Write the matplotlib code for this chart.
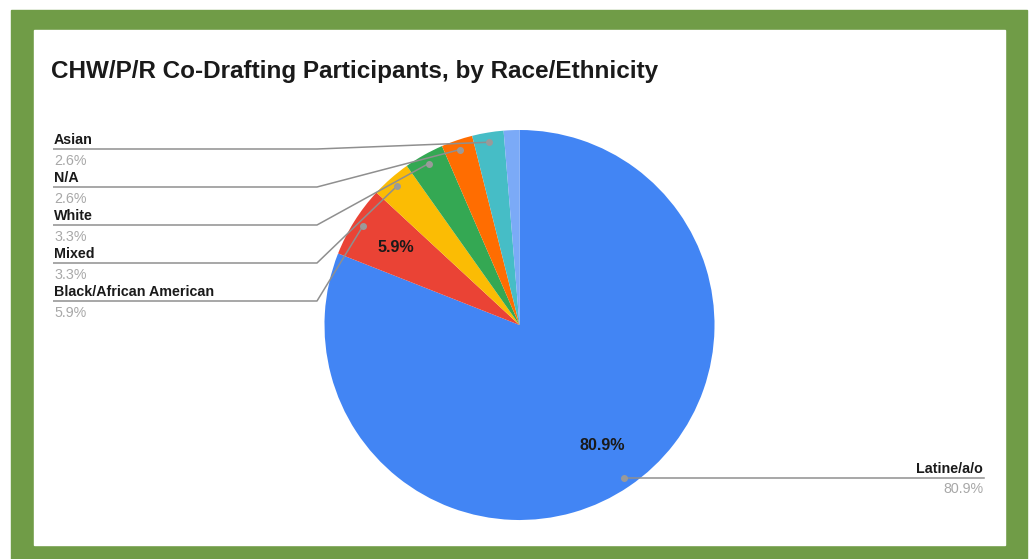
import matplotlib
matplotlib.use("Agg")
import matplotlib.pyplot as plt
import numpy as np
from matplotlib.patches import Rectangle

# ---- data ----
title = "CHW/P/R Co-Drafting Participants, by Race/Ethnicity"
categories = ["Latine/a/o", "Black/African American", "Mixed", "White", "N/A", "Asian", ""]
shares = [80.9, 5.9, 3.3, 3.3, 2.6, 2.6, 1.3]
colors = ["#4285F4", "#EA4335", "#FBBC04", "#34A853", "#FF6D01", "#46BDC6", "#7BAAF7"]
left_label_order = ["Asian", "N/A", "White", "Mixed", "Black/African American"]

plt.rcParams['font.family'] = ['Liberation Sans', 'DejaVu Sans']

W, H = 1031, 559
fig = plt.figure(figsize=(W / 100, H / 100), dpi=100)
ax = fig.add_axes([0, 0, 1, 1])

# frame
ax.add_patch(Rectangle((11, 10), 1016, 549, color='#709C47', zorder=0))
ax.add_patch(Rectangle((34, 30), 971, 515, color='white', zorder=0))

cx, cy, R = 519.5, 325, 195
wedges, texts, autotexts = ax.pie(
    shares, colors=colors, startangle=270, counterclock=True,
    center=(cx, cy), radius=R, autopct='%1.1f%%', pctdistance=0.75,
    wedgeprops=dict(linewidth=0, zorder=2),
    textprops=dict(fontsize=11.6, fontweight='bold', color='#1a1a1a'))
for w in wedges:
    w.set_zorder(2)
for t, s in zip(autotexts, shares):
    t.set_text(f"{s:.1f}%" if s >= 5 else "")
    t.set_zorder(5)

line_c = '#8f8f8f'
dot_c = '#9a9a9a'
pct_c = '#a8a8a8'
fs = 10.3

def anchor(i):
    w = wedges[i]
    th = np.deg2rad((w.theta1 + w.theta2) / 2)
    return cx + 0.95 * R * np.cos(th), cy + 0.95 * R * np.sin(th)

# left labels
label_x, elbow_x = 53, 317
y0, step = 149, 38
for k, name in enumerate(left_label_order):
    i = categories.index(name)
    px, py = anchor(i)
    ly = y0 + step * k
    ax.plot([label_x, elbow_x, px], [ly, ly, py], color=line_c, lw=1.1, zorder=4,
            solid_capstyle='butt')
    ax.plot(px, py, 'o', ms=4, color=dot_c, zorder=6)
    ax.text(label_x + 1, ly - 4.5, name, fontsize=fs, fontweight='bold',
            color='#1a1a1a', va='baseline', ha='left', zorder=6)
    ax.text(label_x + 1, ly + 16, f"{shares[i]:.1f}%", fontsize=fs,
            color=pct_c, va='baseline', ha='left', zorder=6)

# right label (Latine)
i = 0
px, py = anchor(i)
right_x = 984
ax.plot([px, right_x], [py, py], color=line_c, lw=1.1, zorder=4)
ax.plot(px, py, 'o', ms=4, color=dot_c, zorder=6)
ax.text(right_x - 1, py - 5, categories[i], fontsize=fs, fontweight='bold',
        color='#1a1a1a', va='baseline', ha='right', zorder=6)
ax.text(right_x - 1, py + 15, f"{shares[i]:.1f}%", fontsize=fs,
        color=pct_c, va='baseline', ha='right', zorder=6)

# title
ax.text(51, 78, title, fontsize=17.5, fontweight='bold', color='#1a1a1a',
        va='baseline', ha='left', zorder=6)

ax.set_xlim(0, W)
ax.set_ylim(H, 0)
ax.set_aspect('auto')
ax.axis('off')

fig.savefig('out.png', dpi=100)
